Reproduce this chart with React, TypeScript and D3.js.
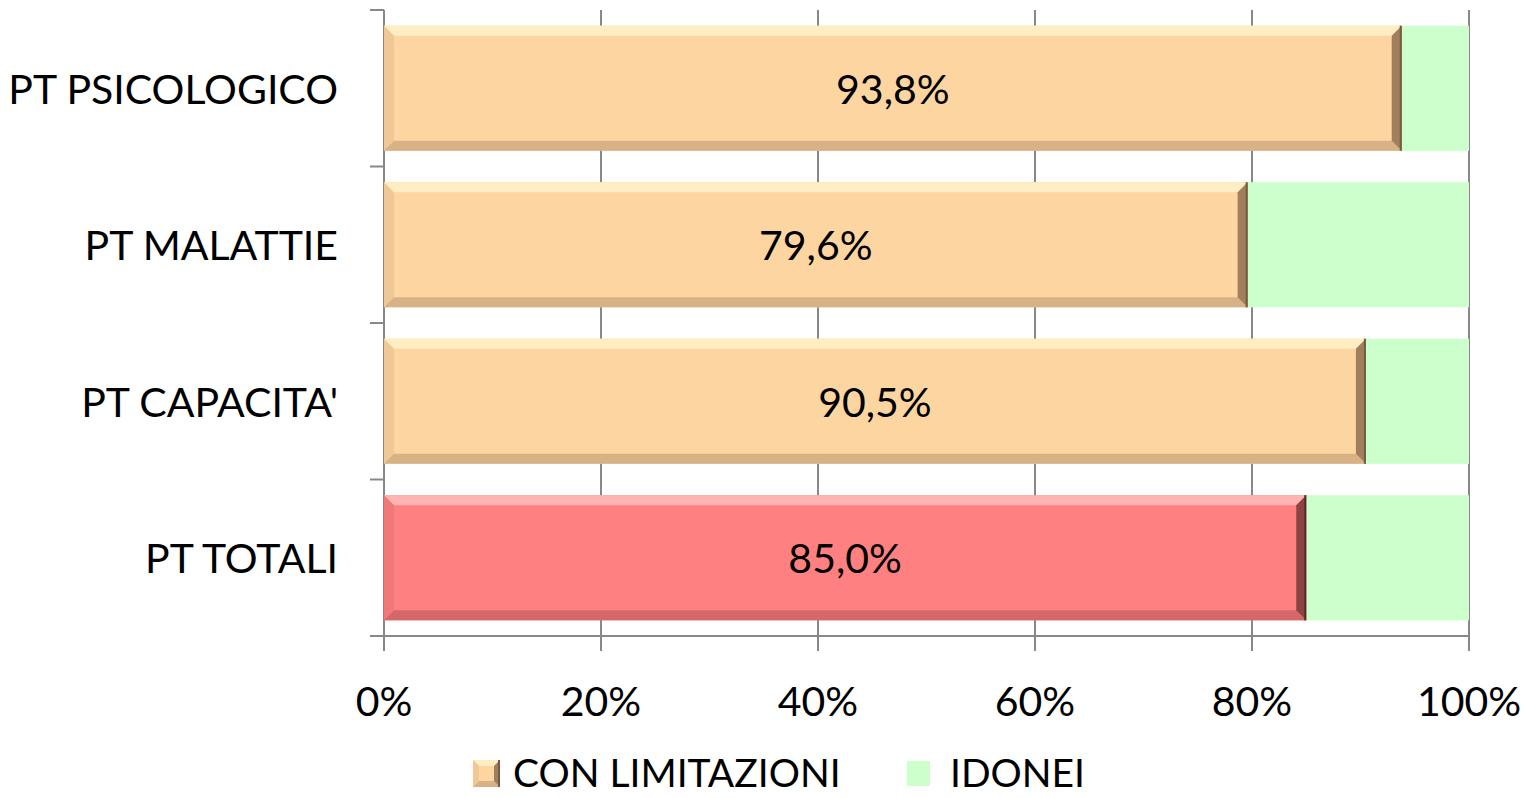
import { useEffect, useRef } from 'react';
import * as d3 from 'd3';

const categories = ['PT PSICOLOGICO', 'PT MALATTIE', "PT CAPACITA'", 'PT TOTALI'];
const conLimitazioni = [93.8, 79.6, 90.5, 85.0];
const idonei = [6.2, 20.4, 9.5, 15.0];
const xTicks = [0, 20, 40, 60, 80, 100];
const seriesNames = ['CON LIMITAZIONI', 'IDONEI'];

const W = 1533;
const H = 798;
const FONT = 'Lato, "Open Sans", sans-serif';
const FS = 41;

const PEACH = { base: '#fdd5a0', light: '#fff2cc', dark: '#7a5a3e', mid: '#c9a57c' };
const RED = { base: '#ff8080', light: '#ffc0c0', dark: '#5e2828', mid: '#c66060' };
const GREEN = '#ccffcc';

function bevel(g: d3.Selection<SVGGElement, unknown, null, undefined>, x0: number, y0: number, x1: number, y1: number, c: typeof PEACH, b = 10) {
  g.append('rect').attr('x', x0).attr('y', y0).attr('width', x1 - x0).attr('height', y1 - y0).attr('fill', c.base);
  const poly = (pts: number[][], fill: string, op = 1) =>
    g.append('polygon').attr('points', pts.map(p => p.join(',')).join(' ')).attr('fill', fill).attr('opacity', op);
  poly([[x0, y0], [x1, y0], [x1 - b, y0 + b], [x0 + b, y0 + b]], c.light, 0.8);
  poly([[x0, y0], [x0 + b, y0 + b], [x0 + b, y1 - b], [x0, y1]], c.mid, 0.25);
  poly([[x0, y1], [x1, y1], [x1 - b, y1 - b], [x0 + b, y1 - b]], c.mid, 0.75);
  poly([[x1, y0], [x1, y1], [x1 - b, y1 - b], [x1 - b, y0 + b]], c.dark, 0.7);
  g.append('line').attr('x1', x1 - 1).attr('x2', x1 - 1).attr('y1', y0).attr('y2', y1).attr('stroke', c.dark).attr('stroke-width', 2);
}

export default function App() {
  const ref = useRef<SVGSVGElement>(null);

  useEffect(() => {
    if (!ref.current) return;
    const svg = d3.select(ref.current);
    svg.selectAll('*').remove();

    const left = 384, right = 1469, top = 10, bottom = 636;
    const x = d3.scaleLinear().domain([0, 100]).range([left, right]);
    const y = d3.scaleBand().domain(categories).range([top, bottom]).paddingInner(0.2).paddingOuter(0.1);
    const edges = d3.range(categories.length + 1).map(i => top + (i * (bottom - top)) / categories.length);

    const grid = svg.append('g');
    // vertical gridlines
    xTicks.forEach(t => {
      grid.append('line').attr('x1', x(t)).attr('x2', x(t)).attr('y1', top).attr('y2', bottom + 15)
        .attr('stroke', '#888').attr('stroke-width', 2);
    });
    // category axis ticks
    edges.forEach(e => {
      grid.append('line').attr('x1', left - 14).attr('x2', left).attr('y1', e).attr('y2', e)
        .attr('stroke', '#888').attr('stroke-width', 2);
    });
    grid.append('line').attr('x1', left).attr('x2', right).attr('y1', bottom).attr('y2', bottom)
      .attr('stroke', '#888').attr('stroke-width', 2);

    const bars = svg.append('g');
    categories.forEach((cat, i) => {
      const y0 = y(cat)!;
      const y1 = y0 + y.bandwidth();
      const xe = x(conLimitazioni[i]);
      bars.append('rect').attr('x', xe).attr('y', y0).attr('width', x(conLimitazioni[i] + idonei[i]) - xe)
        .attr('height', y1 - y0).attr('fill', GREEN);
      const bg = bars.append('g');
      bevel(bg, x(0), y0, xe, y1, cat === 'PT TOTALI' ? RED : PEACH);
      bars.append('text').attr('x', (x(0) + xe) / 2).attr('y', (y0 + y1) / 2)
        .attr('text-anchor', 'middle').attr('dominant-baseline', 'central')
        .attr('font-family', FONT).attr('font-size', FS).attr('fill', '#000')
        .text(d3.format('.1f')(conLimitazioni[i]).replace('.', ',') + '%');
    });

    // left category labels
    categories.forEach(cat => {
      svg.append('text').attr('x', left - 46).attr('y', y(cat)! + y.bandwidth() / 2)
        .attr('text-anchor', 'end').attr('dominant-baseline', 'central')
        .attr('font-family', FONT).attr('font-size', FS).attr('fill', '#000').text(cat);
    });

    // x tick labels
    xTicks.forEach(t => {
      svg.append('text').attr('x', x(t)).attr('y', 700).attr('text-anchor', 'middle')
        .attr('dominant-baseline', 'central').attr('font-family', FONT).attr('font-size', FS)
        .attr('fill', '#000').text(`${t}%`);
    });

    // legend
    const lg = svg.append('g');
    bevel(lg.append('g'), 473, 760, 500, 787, PEACH, 6);
    lg.append('text').attr('x', 513).attr('y', 772).attr('dominant-baseline', 'central')
      .attr('font-family', FONT).attr('font-size', 39).attr('fill', '#000').text(seriesNames[0]);
    lg.append('rect').attr('x', 907).attr('y', 761).attr('width', 23).attr('height', 25).attr('fill', GREEN);
    lg.append('text').attr('x', 950).attr('y', 772).attr('dominant-baseline', 'central')
      .attr('font-family', FONT).attr('font-size', 39).attr('fill', '#000').text(seriesNames[1]);
  }, []);

  return (
    <div style={{ position: 'fixed', left: 0, top: 0, background: '#fff' }}>
      <svg ref={ref} width={W} height={H} viewBox={`0 0 ${W} ${H}`} style={{ display: 'block' }} />
    </div>
  );
}
